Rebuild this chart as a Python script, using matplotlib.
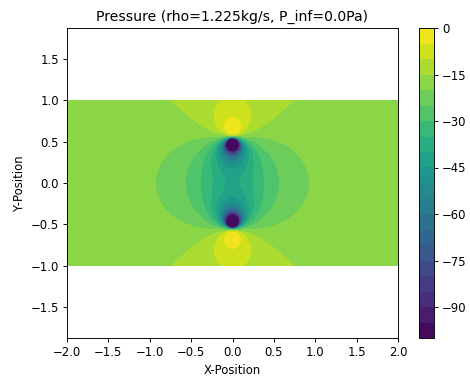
import numpy as np
import matplotlib
matplotlib.use( 'Agg')
import matplotlib.pyplot as plt

# flow parameters
rho = 1.225
p_inf = 0.0
u_inf = 5.0            # free stream velocity (along y)
strength = 5.0         # source / sink strength
source_pos = (0.0, -0.5)
sink_pos = (0.0, 0.5)

# domain and contour levels
x_range = (-2.0, 2.0)
y_range = (-1.0, 1.0)
n_x = 400
n_y = 200
levels = np.arange( -100, 5, 5)
x_ticks = np.arange( -2.0, 2.01, 0.5)


def velocity( X, Y):
    u = np.zeros_like( X)
    v = np.full_like( X, u_inf)
    for (x0, y0), m in ((source_pos, strength), (sink_pos, -strength)):
        dx = X - x0
        dy = Y - y0
        r2 = dx ** 2 + dy ** 2
        u += m / (2 * np.pi) * dx / r2
        v += m / (2 * np.pi) * dy / r2
    return u, v


def pressure( X, Y):
    u, v = velocity( X, Y)
    p = p_inf - 0.5 * rho * (u ** 2 + v ** 2)
    # keep the singular points inside the lowest band
    return np.clip( p, levels[0] + 0.1, None)


x = np.linspace( x_range[0], x_range[1], n_x)
y = np.linspace( y_range[0], y_range[1], n_y)
X, Y = np.meshgrid( x, y)
P = pressure( X, Y)

# 84 dpi so the default font sizes match the reference
fig = plt.figure( figsize=(470 / 84, 376 / 84), dpi=84)
ax = fig.add_axes([ 67 / 470, 38 / 376, 331 / 470, 310 / 376])
cax = fig.add_axes([ 419 / 470, 38 / 376, 15 / 470, 310 / 376])

cs = ax.contourf( X, Y, P, levels=levels, cmap='viridis')
fig.colorbar( cs, cax=cax)

ax.set_xlim( -2, 2)
ax.set_ylim( -1.873, 1.873)
ax.set_xticks( x_ticks)
ax.set_title( 'Pressure (rho=%.3fkg/s, P_inf=%.1fPa)' % (rho, p_inf))
ax.set_xlabel( 'X-Position')
ax.set_ylabel( 'Y-Position')

fig.savefig( 'out.png', dpi=84)
